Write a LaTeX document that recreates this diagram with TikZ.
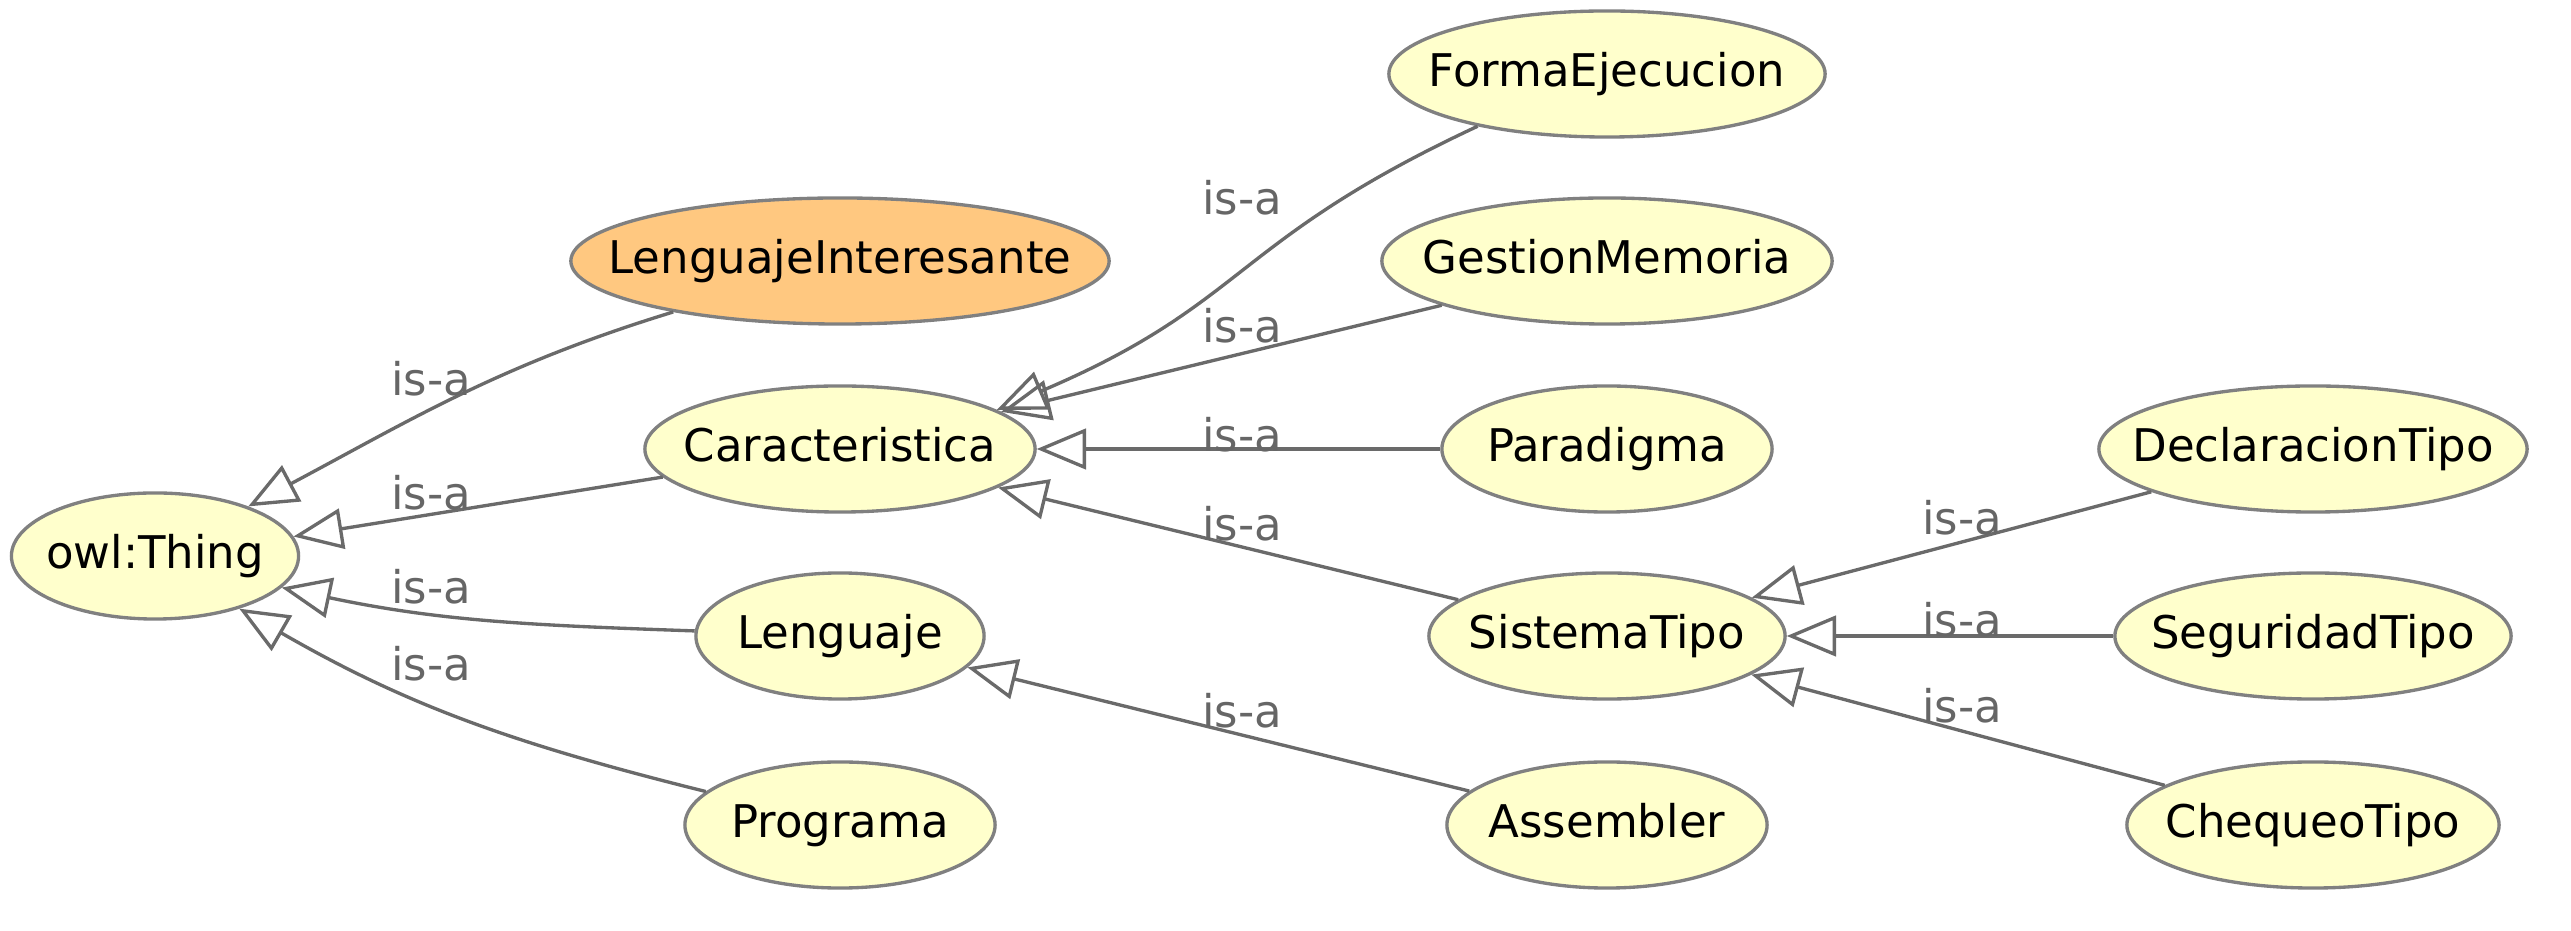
\documentclass[tikz,border=0pt]{standalone}
\usepackage{fontspec}
\setmainfont{DejaVu Sans}
\usetikzlibrary{arrows.meta,shapes.geometric}
\definecolor{clsfill}{HTML}{FFFFCC}
\definecolor{hotfill}{HTML}{FFC880}
\definecolor{rim}{HTML}{808080}
\definecolor{wire}{HTML}{6A6A6A}
\definecolor{tagcol}{HTML}{666666}

\begin{document}
\begin{tikzpicture}[x=0.01cm, y=-0.01cm,
  cls/.style={ellipse, draw=rim, fill=clsfill, line width=0.95pt,
              minimum height=1.26cm, inner sep=0pt,
              font=\fontsize{12.8}{15}\selectfont, text height=1.33ex, text depth=0pt,
              execute at begin node={\hbox to 0pt\bgroup\hss},
              execute at end node={\hss\egroup}},
  hot/.style={cls, fill=hotfill},
  isa/.style={draw=wire, line width=0.95pt,
              -{Triangle[open, length=14pt, width=11.5pt]}},
  lbl/.style={anchor=base, text=tagcol, inner sep=0pt,
              font=\fontsize{12.8}{15}\selectfont}]

\useasboundingbox (0,0) rectangle (2571,931);

\def\xa{155}    % root
\def\xb{840}    % first level
\def\xc{1607}   % second level
\def\xd{2313}   % third level

% ---------------------------------------------------------------- classes
\node[cls, minimum width=2.87cm] (thing)     at (\xa,556) {owl:Thing};

\node[hot, minimum width=5.38cm] (interes)   at (\xb,261) {LenguajeInteresante};
\node[cls, minimum width=3.90cm] (carac)     at (\xb,449) {Caracteristica};
\node[cls, minimum width=2.88cm] (leng)      at (\xb,636) {Lenguaje};
\node[cls, minimum width=3.10cm] (prog)      at (\xb,825) {Programa};

\node[cls, minimum width=4.36cm] (forma)     at (\xc,74)  {FormaEjecucion};
\node[cls, minimum width=4.50cm] (gestion)   at (\xc,261) {GestionMemoria};
\node[cls, minimum width=3.30cm] (paradigma) at (\xc,449) {Paradigma};
\node[cls, minimum width=3.56cm] (sistema)   at (\xc,636) {SistemaTipo};
\node[cls, minimum width=3.20cm] (assembler) at (\xc,825) {Assembler};

\node[cls, minimum width=4.28cm] (declar)    at (\xd,449) {DeclaracionTipo};
\node[cls, minimum width=3.96cm] (segur)     at (\xd,636) {SeguridadTipo};
\node[cls, minimum width=3.72cm] (chequeo)   at (\xd,825) {ChequeoTipo};

% ---------------------------------------------------------------- is-a edges
\draw[isa] (interes.197) to[out=197, in=28] (thing.28);
\draw[isa] (carac.189) -- (thing.8);
\draw[isa] (leng.178) to[out=178, in=-12] (thing.-14);
\draw[isa] (prog.166) to[out=166, in=-30] (thing.-32);

\draw[isa] (forma.202) to[out=205, in=23, looseness=1.25] (carac.14);
\draw[isa] (gestion.195) -- (carac.13);
\draw[isa] (paradigma) -- (carac);
\draw[isa] (sistema) -- (carac);
\draw[isa] (assembler) -- (leng);

\draw[isa] (declar) -- (sistema);
\draw[isa] (segur) -- (sistema);
\draw[isa] (chequeo) -- (sistema);

% ---------------------------------------------------------------- labels
\node[lbl] (l-interes)   at (431,396)  {is-a};
\node[lbl] (l-carac)     at (431,510)  {is-a};
\node[lbl] (l-leng)      at (431,604)  {is-a};
\node[lbl] (l-prog)      at (431,681)  {is-a};

\node[lbl] (l-forma)     at (1242,215) {is-a};
\node[lbl] (l-gestion)   at (1242,343) {is-a};
\node[lbl] (l-paradigma) at (1242,452) {is-a};
\node[lbl] (l-sistema)   at (1242,541) {is-a};
\node[lbl] (l-assembler) at (1242,728) {is-a};

\node[lbl] (l-declar)    at (1962,535) {is-a};
\node[lbl] (l-segur)     at (1962,637) {is-a};
\node[lbl] (l-chequeo)   at (1962,723) {is-a};

\end{tikzpicture}
\end{document}
